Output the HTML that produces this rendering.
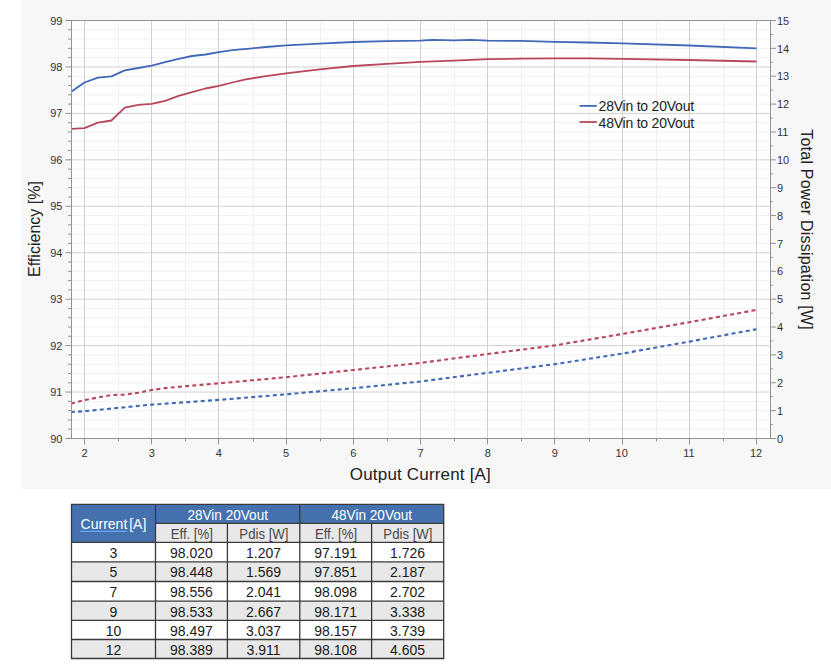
<!DOCTYPE html>
<html><head><meta charset="utf-8"><title>Efficiency</title>
<style>
html,body{margin:0;padding:0;background:#fff;}
body{width:831px;height:670px;position:relative;overflow:hidden;font-family:"Liberation Sans",sans-serif;}
</style></head><body>
<svg width="831" height="670" viewBox="0 0 831 670" style="position:absolute;left:0;top:0">
<rect x="21.6" y="0" width="810" height="488.9" fill="#f7f7f7"/>
<rect x="71.5" y="20.5" width="699.0" height="418.0" fill="#fff"/>
<path d="M71.5 29.79H770.5M71.5 39.08H770.5M71.5 48.37H770.5M71.5 57.66H770.5M71.5 76.23H770.5M71.5 85.52H770.5M71.5 94.81H770.5M71.5 104.10H770.5M71.5 122.68H770.5M71.5 131.97H770.5M71.5 141.26H770.5M71.5 150.54H770.5M71.5 169.12H770.5M71.5 178.41H770.5M71.5 187.70H770.5M71.5 196.99H770.5M71.5 215.57H770.5M71.5 224.86H770.5M71.5 234.14H770.5M71.5 243.43H770.5M71.5 262.01H770.5M71.5 271.30H770.5M71.5 280.59H770.5M71.5 289.88H770.5M71.5 308.46H770.5M71.5 317.74H770.5M71.5 327.03H770.5M71.5 336.32H770.5M71.5 354.90H770.5M71.5 364.19H770.5M71.5 373.48H770.5M71.5 382.77H770.5M71.5 401.34H770.5M71.5 410.63H770.5M71.5 419.92H770.5M71.5 429.21H770.5" stroke="#f0f0f0" stroke-width="1" fill="none"/>
<path d="M118.50 20.5V438.5M185.50 20.5V438.5M253.50 20.5V438.5M320.50 20.5V438.5M387.50 20.5V438.5M454.50 20.5V438.5M521.50 20.5V438.5M589.50 20.5V438.5M656.50 20.5V438.5M723.50 20.5V438.5" stroke="#f0f0f0" stroke-width="1" fill="none"/>
<path d="M71.5 392.06H770.5M71.5 345.61H770.5M71.5 299.17H770.5M71.5 252.72H770.5M71.5 206.28H770.5M71.5 159.83H770.5M71.5 113.39H770.5M71.5 66.94H770.5M84.50 20.5V438.5M151.50 20.5V438.5M218.50 20.5V438.5M286.50 20.5V438.5M353.50 20.5V438.5M420.50 20.5V438.5M487.50 20.5V438.5M554.50 20.5V438.5M622.50 20.5V438.5M689.50 20.5V438.5M756.50 20.5V438.5" stroke="#d0d0d0" stroke-width="1" fill="none"/>
<polyline points="71.5,91.4 84.5,82.5 97.9,77.7 111.4,76.4 124.8,70.4 138.3,68.0 151.7,65.6 165.1,62.2 178.6,58.9 192.0,56.0 205.5,54.5 218.9,52.1 232.3,50.2 252.5,48.3 265.9,47.0 286.1,45.4 319.7,43.6 353.3,42.0 386.9,41.2 420.5,40.6 431.9,39.8 454.1,40.3 470.9,39.8 487.7,40.7 521.3,40.9 554.9,41.8 588.5,42.5 622.1,43.4 689.3,45.5 756.5,48.4" fill="none" stroke="#4268b8" stroke-width="1.8" stroke-linejoin="round"/>
<polyline points="71.5,128.9 84.5,128.2 97.9,122.7 111.4,120.5 124.8,107.7 138.3,104.8 151.7,103.9 165.1,100.8 178.6,95.9 192.0,92.1 205.5,88.5 218.9,85.8 232.3,82.5 245.8,79.3 265.9,76.2 286.1,73.4 319.7,69.3 353.3,66.0 386.9,63.8 420.5,61.8 454.1,60.7 487.7,59.2 521.3,58.6 554.9,58.3 588.5,58.4 622.1,58.9 689.3,60.0 756.5,61.5" fill="none" stroke="#b8475b" stroke-width="1.8" stroke-linejoin="round"/>
<polyline points="71.5,403.5 84.5,400.0 97.9,397.5 111.4,395.1 124.8,394.7 138.3,392.7 151.7,390.0 165.1,388.1 185.3,386.2 218.9,383.3 252.5,380.3 286.1,377.2 353.3,370.0 420.5,362.9 487.7,354.0 554.9,345.4 622.1,334.0 689.3,322.2 756.5,309.9" fill="none" stroke="#b8475b" stroke-width="2.1" stroke-dasharray="4 3.236" stroke-dashoffset="0.6" stroke-linejoin="round"/>
<polyline points="71.5,412.0 84.5,411.2 118.1,407.9 151.7,404.6 218.9,399.9 286.1,394.3 353.3,388.2 420.5,381.5 487.7,372.8 554.9,364.2 622.1,353.6 689.3,341.6 756.5,329.2" fill="none" stroke="#4268b8" stroke-width="2.1" stroke-dasharray="4 3.236" stroke-dashoffset="0.6" stroke-linejoin="round"/>
<rect x="71.5" y="20.5" width="699.0" height="418.0" fill="none" stroke="#929292" stroke-width="1"/>
<path d="M65.5 20.50H71.5M68.0 29.79H71.5M68.0 39.08H71.5M68.0 48.37H71.5M68.0 57.66H71.5M65.5 66.94H71.5M68.0 76.23H71.5M68.0 85.52H71.5M68.0 94.81H71.5M68.0 104.10H71.5M65.5 113.39H71.5M68.0 122.68H71.5M68.0 131.97H71.5M68.0 141.26H71.5M68.0 150.54H71.5M65.5 159.83H71.5M68.0 169.12H71.5M68.0 178.41H71.5M68.0 187.70H71.5M68.0 196.99H71.5M65.5 206.28H71.5M68.0 215.57H71.5M68.0 224.86H71.5M68.0 234.14H71.5M68.0 243.43H71.5M65.5 252.72H71.5M68.0 262.01H71.5M68.0 271.30H71.5M68.0 280.59H71.5M68.0 289.88H71.5M65.5 299.17H71.5M68.0 308.46H71.5M68.0 317.74H71.5M68.0 327.03H71.5M68.0 336.32H71.5M65.5 345.61H71.5M68.0 354.90H71.5M68.0 364.19H71.5M68.0 373.48H71.5M68.0 382.77H71.5M65.5 392.06H71.5M68.0 401.34H71.5M68.0 410.63H71.5M68.0 419.92H71.5M68.0 429.21H71.5M65.5 438.50H71.5M770.5 438.50H776.0M770.5 424.57H772.8M770.5 410.63H776.0M770.5 396.70H772.8M770.5 382.77H776.0M770.5 368.83H772.8M770.5 354.90H776.0M770.5 340.97H772.8M770.5 327.03H776.0M770.5 313.10H772.8M770.5 299.17H776.0M770.5 285.23H772.8M770.5 271.30H776.0M770.5 257.37H772.8M770.5 243.43H776.0M770.5 229.50H772.8M770.5 215.57H776.0M770.5 201.63H772.8M770.5 187.70H776.0M770.5 173.77H772.8M770.5 159.83H776.0M770.5 145.90H772.8M770.5 131.97H776.0M770.5 118.03H772.8M770.5 104.10H776.0M770.5 90.17H772.8M770.5 76.23H776.0M770.5 62.30H772.8M770.5 48.37H776.0M770.5 34.43H772.8M770.5 20.50H776.0M84.50 438.5V444.5M118.50 438.5V441.5M151.50 438.5V444.5M185.50 438.5V441.5M218.50 438.5V444.5M253.50 438.5V441.5M286.50 438.5V444.5M320.50 438.5V441.5M353.50 438.5V444.5M387.50 438.5V441.5M420.50 438.5V444.5M454.50 438.5V441.5M487.50 438.5V444.5M521.50 438.5V441.5M554.50 438.5V444.5M589.50 438.5V441.5M622.50 438.5V444.5M656.50 438.5V441.5M689.50 438.5V444.5M723.50 438.5V441.5M756.50 438.5V444.5" stroke="#929292" stroke-width="1" fill="none"/>
<g font-family="Liberation Sans, sans-serif" font-size="11" fill="#333333">
<text x="62.4" y="442.5" text-anchor="end">90</text>
<text x="62.4" y="396.1" text-anchor="end">91</text>
<text x="62.4" y="349.6" text-anchor="end">92</text>
<text x="62.4" y="303.2" text-anchor="end">93</text>
<text x="62.4" y="256.7" text-anchor="end">94</text>
<text x="62.4" y="210.3" text-anchor="end">95</text>
<text x="62.4" y="163.8" text-anchor="end">96</text>
<text x="62.4" y="117.4" text-anchor="end">97</text>
<text x="62.4" y="70.9" text-anchor="end">98</text>
<text x="62.4" y="24.5" text-anchor="end">99</text>
<text x="777" y="442.6">0</text>
<text x="777" y="414.7">1</text>
<text x="777" y="386.9">2</text>
<text x="777" y="359.0">3</text>
<text x="777" y="331.1">4</text>
<text x="777" y="303.3">5</text>
<text x="777" y="275.4">6</text>
<text x="777" y="247.5">7</text>
<text x="777" y="219.7">8</text>
<text x="777" y="191.8">9</text>
<text x="777" y="163.9">10</text>
<text x="777" y="136.1">11</text>
<text x="777" y="108.2">12</text>
<text x="777" y="80.3">13</text>
<text x="777" y="52.5">14</text>
<text x="777" y="24.6">15</text>
<text x="84.5" y="457.3" text-anchor="middle">2</text>
<text x="151.7" y="457.3" text-anchor="middle">3</text>
<text x="218.9" y="457.3" text-anchor="middle">4</text>
<text x="286.1" y="457.3" text-anchor="middle">5</text>
<text x="353.3" y="457.3" text-anchor="middle">6</text>
<text x="420.5" y="457.3" text-anchor="middle">7</text>
<text x="487.7" y="457.3" text-anchor="middle">8</text>
<text x="554.9" y="457.3" text-anchor="middle">9</text>
<text x="621.7" y="457.3" text-anchor="middle">10</text>
<text x="688.9" y="457.3" text-anchor="middle">11</text>
<text x="756.1" y="457.3" text-anchor="middle">12</text>
</g>
<g font-family="Liberation Sans, sans-serif" fill="#222">
<text x="420.3" y="480" font-size="17" text-anchor="middle" textLength="141" lengthAdjust="spacing">Output Current [A]</text>
<text transform="translate(40,229) rotate(-90)" font-size="16" text-anchor="middle" textLength="96" lengthAdjust="spacing">Efficiency [%]</text>
<text transform="translate(801.4,229.5) rotate(90)" font-size="16" text-anchor="middle" textLength="200.5" lengthAdjust="spacing">Total Power Dissipation [W]</text>
</g>
<path d="M579.5 105.9H596.8" stroke="#4268b8" stroke-width="1.8"/>
<path d="M579.5 122H596.8" stroke="#b8475b" stroke-width="1.8"/>
<g font-family="Liberation Sans, sans-serif" font-size="14" fill="#222">
<text x="598.6" y="111.4" textLength="95.5" lengthAdjust="spacing">28Vin to 20Vout</text>
<text x="598.6" y="127.8" textLength="95.5" lengthAdjust="spacing">48Vin to 20Vout</text>
</g>
<rect x="71.5" y="504.30" width="84.0" height="38.00" fill="#4572af"/>
<rect x="155.5" y="504.30" width="288.2" height="19.00" fill="#4572af"/>
<rect x="155.5" y="523.30" width="288.2" height="19.00" fill="#e8e8e8"/>
<rect x="71.5" y="542.30" width="372.2" height="19.60" fill="#fff"/>
<rect x="71.5" y="561.90" width="372.2" height="19.60" fill="#e8e8e8"/>
<rect x="71.5" y="581.50" width="372.2" height="19.60" fill="#fff"/>
<rect x="71.5" y="601.10" width="372.2" height="19.30" fill="#e8e8e8"/>
<rect x="71.5" y="620.40" width="372.2" height="19.10" fill="#fff"/>
<rect x="71.5" y="639.50" width="372.2" height="19.00" fill="#e8e8e8"/>
<path d="M70.8 504.30H444.3M155.5 523.30H443.7M70.8 542.30H444.3M70.8 561.90H444.3M70.8 581.50H444.3M70.8 601.10H444.3M70.8 620.40H444.3M70.8 639.50H444.3M70.8 658.50H444.3M71.5 504.30V658.50M155.5 504.30V658.50M299.8 504.30V658.50M443.7 504.30V658.50M227.4 523.30V658.50M371.6 523.30V658.50" stroke="#3a3a3a" stroke-width="1.3" fill="none"/>
<g font-family="Liberation Sans, sans-serif" font-size="14" text-anchor="middle">
<text x="80.6" y="528.8" fill="#fff" font-size="14" text-anchor="start">Current<tspan dx="1.9">[A]</tspan></text>
<path d="M80.3 531.4H127.4" stroke="#6ea6f5" stroke-width="1.2"/>
<text x="227.7" y="519.6" fill="#fff" font-size="14.2" textLength="80.6" lengthAdjust="spacingAndGlyphs">28Vin 20Vout</text>
<text x="371.8" y="519.6" fill="#fff" font-size="14.2" textLength="80.6" lengthAdjust="spacingAndGlyphs">48Vin 20Vout</text>
<text x="191.8" y="538.7" fill="#484848" font-size="14.2" textLength="42.2" lengthAdjust="spacingAndGlyphs">Eff. [%]</text>
<text x="263.9" y="538.7" fill="#484848" font-size="14.2" textLength="49.1" lengthAdjust="spacingAndGlyphs">Pdis [W]</text>
<text x="336.0" y="538.7" fill="#484848" font-size="14.2" textLength="42.2" lengthAdjust="spacingAndGlyphs">Eff. [%]</text>
<text x="407.9" y="538.7" fill="#484848" font-size="14.2" textLength="49.1" lengthAdjust="spacingAndGlyphs">Pdis [W]</text>
<text x="113.5" y="557.70" fill="#1a1a1a">3</text>
<text x="191.4" y="557.70" fill="#1a1a1a">98.020</text>
<text x="263.6" y="557.70" fill="#1a1a1a">1.207</text>
<text x="335.7" y="557.70" fill="#1a1a1a">97.191</text>
<text x="407.6" y="557.70" fill="#1a1a1a">1.726</text>
<text x="113.5" y="577.30" fill="#1a1a1a">5</text>
<text x="191.4" y="577.30" fill="#1a1a1a">98.448</text>
<text x="263.6" y="577.30" fill="#1a1a1a">1.569</text>
<text x="335.7" y="577.30" fill="#1a1a1a">97.851</text>
<text x="407.6" y="577.30" fill="#1a1a1a">2.187</text>
<text x="113.5" y="596.90" fill="#1a1a1a">7</text>
<text x="191.4" y="596.90" fill="#1a1a1a">98.556</text>
<text x="263.6" y="596.90" fill="#1a1a1a">2.041</text>
<text x="335.7" y="596.90" fill="#1a1a1a">98.098</text>
<text x="407.6" y="596.90" fill="#1a1a1a">2.702</text>
<text x="113.5" y="616.50" fill="#1a1a1a">9</text>
<text x="191.4" y="616.50" fill="#1a1a1a">98.533</text>
<text x="263.6" y="616.50" fill="#1a1a1a">2.667</text>
<text x="335.7" y="616.50" fill="#1a1a1a">98.171</text>
<text x="407.6" y="616.50" fill="#1a1a1a">3.338</text>
<text x="113.5" y="635.80" fill="#1a1a1a">10</text>
<text x="191.4" y="635.80" fill="#1a1a1a">98.497</text>
<text x="263.6" y="635.80" fill="#1a1a1a">3.037</text>
<text x="335.7" y="635.80" fill="#1a1a1a">98.157</text>
<text x="407.6" y="635.80" fill="#1a1a1a">3.739</text>
<text x="113.5" y="654.90" fill="#1a1a1a">12</text>
<text x="191.4" y="654.90" fill="#1a1a1a">98.389</text>
<text x="263.6" y="654.90" fill="#1a1a1a">3.911</text>
<text x="335.7" y="654.90" fill="#1a1a1a">98.108</text>
<text x="407.6" y="654.90" fill="#1a1a1a">4.605</text>
</g>
</svg>

</body></html>
